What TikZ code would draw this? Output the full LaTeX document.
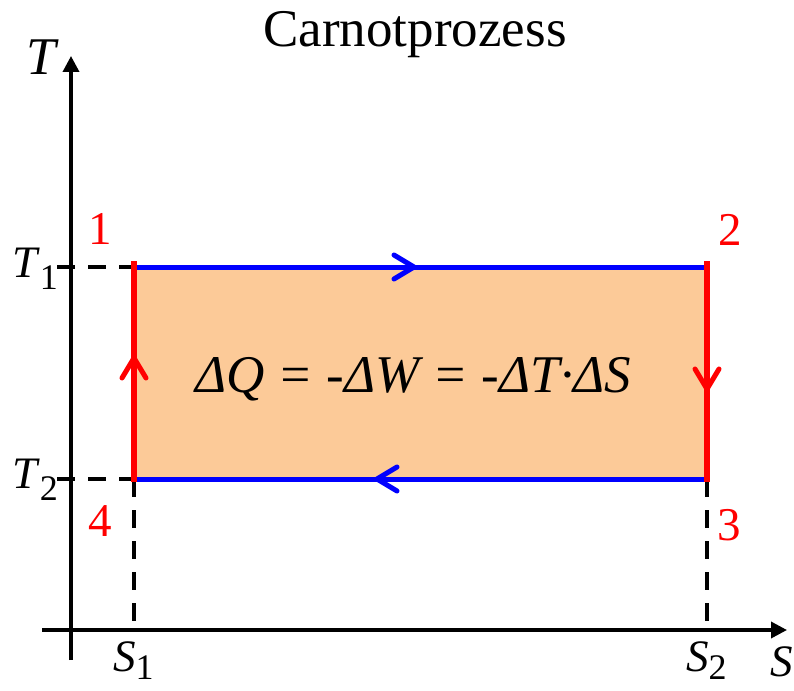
\documentclass[tikz,border=0pt]{standalone}
\usepackage{fontspec}
\setmainfont{Liberation Serif}
\usetikzlibrary{arrows.meta}
\definecolor{peach}{RGB}{252,202,152}
\newcommand{\fs}[1]{\fontsize{#1}{#1}\selectfont}
\newcommand{\lowsub}[2][12pt]{\raisebox{-#1}{\fs{36}#2}}
\begin{document}
\begin{tikzpicture}[x=1pt,y=-1pt,
  axis/.style={line width=3.5pt,-{Triangle[length=16pt,width=16pt]}},
  guide/.style={line width=3.5pt,dash pattern=on 18pt off 13pt},
  iso/.style={line width=5pt,blue},
  adia/.style={line width=6pt,red},
  chev/.style={line width=5pt,line cap=round,line join=round},
  lbl/.style={inner sep=0pt,font=\fs{53}},
  tick/.style={inner sep=0pt,anchor=base west,font=\fs{45}},
  num/.style={inner sep=0pt,anchor=base,text=red,font=\fs{47}}]
\useasboundingbox (0,0) rectangle (794,690);
% corners
\coordinate (c1) at (134,267);
\coordinate (c2) at (707,267);
\coordinate (c3) at (707,479);
\coordinate (c4) at (134,479);
\coordinate (l1) at (134,261);
\coordinate (l4) at (134,482);
\coordinate (r2) at (707,261);
\coordinate (r3) at (707,482);
% axes points
\coordinate (yb) at (71,660);
\coordinate (yt) at (71,56);
\coordinate (xl) at (42,630);
\coordinate (xr) at (787,630);
\coordinate (t1) at (57,267);
\coordinate (t2) at (57,479);
\coordinate (s1) at (134,630);
\coordinate (s2) at (707,630);
% arrow tips
\coordinate (mt) at (414,267);
\coordinate (mb) at (377,479);
\coordinate (ml) at (134,358);
\coordinate (mr) at (707,389);
% fill
\fill[peach] (c1) rectangle (c3);
% guides
\draw[guide] (t1) -- (c1);
\draw[guide] (t2) -- (c4);
\draw[guide] (c4) -- (s1);
\draw[guide] (c3) -- (s2);
% axes
\draw[axis] (yb) -- (yt);
\draw[axis] (xl) -- (xr);
% cycle
\draw[iso] (c1) -- (c2);
\draw[iso] (c4) -- (c3);
\draw[adia] (l4) -- (l1);
\draw[adia] (r2) -- (r3);
\draw[chev,blue] ([shift={(-20,-12)}]mt) -- (mt) -- ([shift={(-20,12)}]mt);
\draw[chev,blue] ([shift={(20,-12)}]mb) -- (mb) -- ([shift={(20,12)}]mb);
\draw[chev,red] ([shift={(-12,20)}]ml) -- (ml) -- ([shift={(12,20)}]ml);
\draw[chev,red] ([shift={(-12,-20)}]mr) -- (mr) -- ([shift={(12,-20)}]mr);
% labels
\node[lbl,anchor=base] (title) at (415,47) {Carnotprozess};
\node[lbl,anchor=base] (tlab) at (43,75) {\textit{T}};
\node[tick] (t1lab) at (12,277) {\textit{T}\lowsub{1}};
\node[tick] (t2lab) at (12,488) {\textit{T}\lowsub{2}};
\node[tick] (s1lab) at (113,671) {\textit{S}\lowsub[8pt]{1}};
\node[tick] (s2lab) at (686,671) {\textit{S}\lowsub[8pt]{2}};
\node[tick] (slab) at (770,676) {\textit{S}};
\node[lbl,anchor=base] (eq) at (413,392) {\textit{ΔQ = -ΔW = -ΔT·ΔS}};
\node[num] (n1) at (100,244) {1};
\node[num] (n2) at (730,245) {2};
\node[num] (n3) at (729,540) {3};
\node[num] (n4) at (100,536) {4};
\end{tikzpicture}
\end{document}
